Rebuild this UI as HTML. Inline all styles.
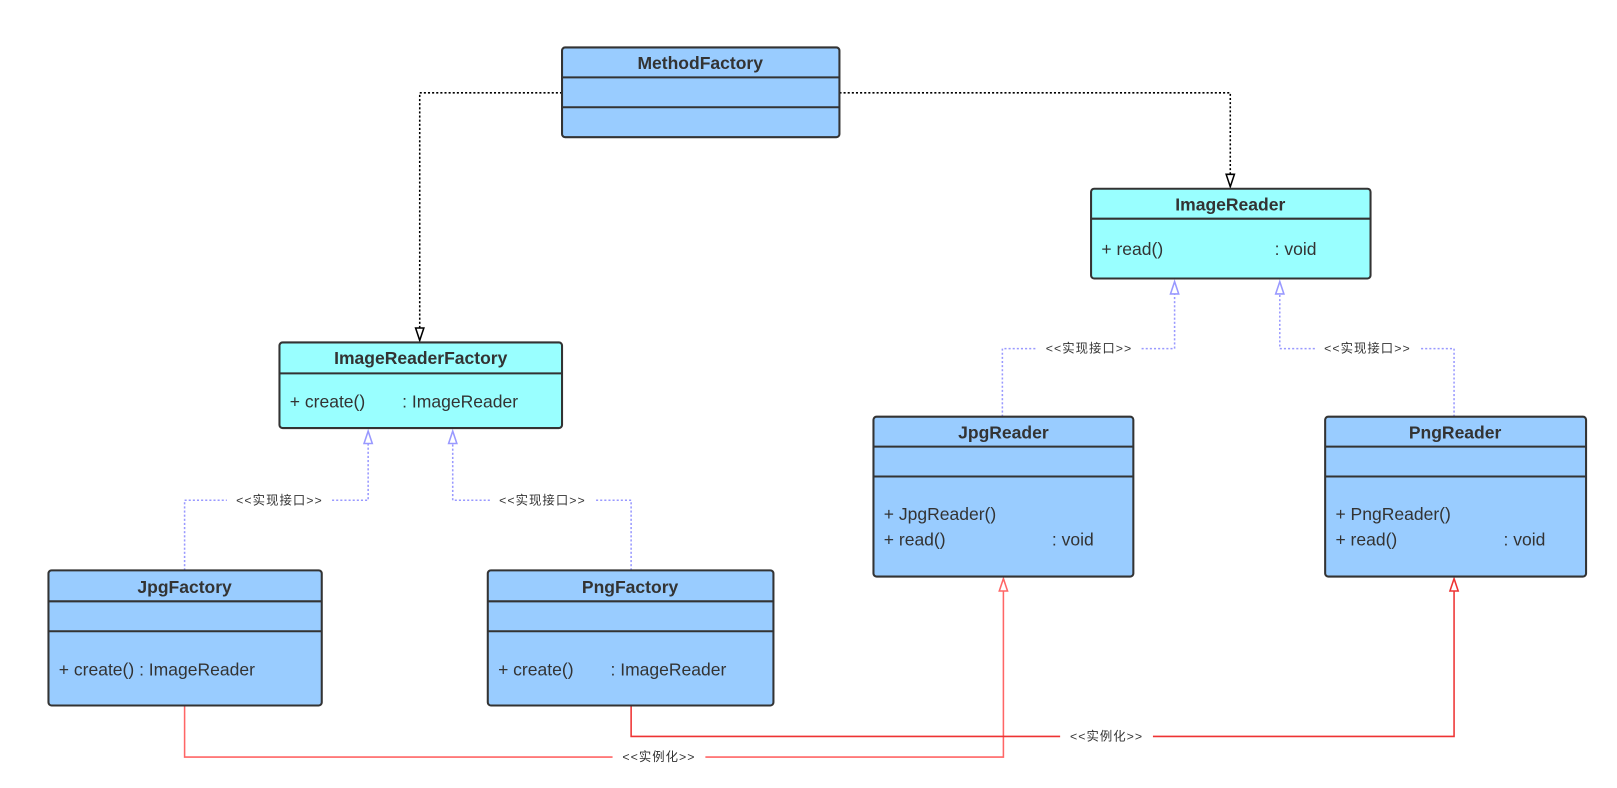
<!DOCTYPE html>
<html><head><meta charset="utf-8"><style>
body{margin:0;background:#fff}
text{font-family:"Liberation Sans","Noto Sans CJK SC",sans-serif;fill:#333}
.t{font-weight:bold;font-size:17px}
.m{font-size:17px}
.l{font-size:12px;letter-spacing:1px}
</style></head><body>
<svg width="1617" height="788" viewBox="0 0 1568 764" preserveAspectRatio="none" xmlns="http://www.w3.org/2000/svg" style="display:block">
<g fill="none">
<path d="M545,90 H407 V320" stroke="#000" stroke-width="1.5" stroke-dasharray="2,2"/>
<path d="M407,318 l-4,0 l4,12 l4,-12z" fill="#fff" stroke="#000" stroke-width="1.5"/>
<path d="M814,90 H1193 V170" stroke="#000" stroke-width="1.5" stroke-dasharray="2,2"/>
<path d="M1193,169 l-4,0 l4,12 l4,-12z" fill="#fff" stroke="#000" stroke-width="1.5"/>
<g stroke="#9999ff" stroke-width="1.5" stroke-dasharray="2,2">
<path d="M179,553 V485 H220 M322,485 H357 V430"/>
<path d="M612,553 V485 H578 M475,485 H439 V430"/>
<path d="M972,404 V338 H1005 M1107,338 H1139 V285"/>
<path d="M1410,404 V338 H1377 M1275,338 H1241 V285"/>
</g>
<g stroke="#9999ff" stroke-width="1.5" fill="#fff">
<path d="M357,418 l-4,12 h8z"/><path d="M439,418 l-4,12 h8z"/>
<path d="M1139,273 l-4,12 h8z"/><path d="M1241,273 l-4,12 h8z"/>
</g>
<path d="M179,684 V734 H594 M684,734 H973 V572" stroke="#ff6666" stroke-width="1.5"/>
<path d="M973,561 l-4,12 h8z" stroke="#ff6666" stroke-width="1.5" fill="#fff"/>
<path d="M612,684 V714 H1028 M1118,714 H1410 V572" stroke="#ee3333" stroke-width="1.5"/>
<path d="M1410,561 l-4,12 h8z" stroke="#ee3333" stroke-width="1.5" fill="#fff"/>
</g>
<text class="l" x="271" y="489" text-anchor="middle">&lt;&lt;实现接口&gt;&gt;</text>
<text class="l" x="526" y="489" text-anchor="middle">&lt;&lt;实现接口&gt;&gt;</text>
<text class="l" x="1056" y="342" text-anchor="middle">&lt;&lt;实现接口&gt;&gt;</text>
<text class="l" x="1326" y="342" text-anchor="middle">&lt;&lt;实现接口&gt;&gt;</text>
<text class="l" x="639" y="738" text-anchor="middle">&lt;&lt;实例化&gt;&gt;</text>
<text class="l" x="1073" y="718" text-anchor="middle">&lt;&lt;实例化&gt;&gt;</text>
<g stroke="#333" stroke-width="2">
<rect x="545" y="46" width="269" height="87" rx="3" fill="#99ccff"/>
<path d="M545,75 H814 M545,104 H814"/>
<rect x="1058" y="183" width="271" height="87" rx="3" fill="#99ffff"/>
<path d="M1058,212 H1329"/>
<rect x="271" y="332" width="274" height="83" rx="3" fill="#99ffff"/>
<path d="M271,362 H545"/>
<rect x="847" y="404" width="252" height="155" rx="3" fill="#99ccff"/>
<path d="M847,433 H1099 M847,462 H1099"/>
<rect x="1285" y="404" width="253" height="155" rx="3" fill="#99ccff"/>
<path d="M1285,433 H1538 M1285,462 H1538"/>
<rect x="47" y="553" width="265" height="131" rx="3" fill="#99ccff"/>
<path d="M47,583 H312 M47,612 H312"/>
<rect x="473" y="553" width="277" height="131" rx="3" fill="#99ccff"/>
<path d="M473,583 H750 M473,612 H750"/>
</g>
<text class="t" x="679" y="67" text-anchor="middle">MethodFactory</text>
<text class="t" x="1193" y="204" text-anchor="middle">ImageReader</text>
<text class="m" x="1068" y="247">+ read()</text><text class="m" x="1236" y="247">: void</text>
<text class="t" x="408" y="353" text-anchor="middle">ImageReaderFactory</text>
<text class="m" x="281" y="395">+ create()</text><text class="m" x="390" y="395">: ImageReader</text>
<text class="t" x="973" y="425" text-anchor="middle">JpgReader</text>
<text class="m" x="857" y="504">+ JpgReader()</text>
<text class="m" x="857" y="529">+ read()</text><text class="m" x="1020" y="529">: void</text>
<text class="t" x="1411" y="425" text-anchor="middle">PngReader</text>
<text class="m" x="1295" y="504">+ PngReader()</text>
<text class="m" x="1295" y="529">+ read()</text><text class="m" x="1458" y="529">: void</text>
<text class="t" x="179" y="575" text-anchor="middle">JpgFactory</text>
<text class="m" x="57" y="655">+ create() : ImageReader</text>
<text class="t" x="611" y="575" text-anchor="middle">PngFactory</text>
<text class="m" x="483" y="655">+ create()</text><text class="m" x="592" y="655">: ImageReader</text>
</svg>
</body></html>
